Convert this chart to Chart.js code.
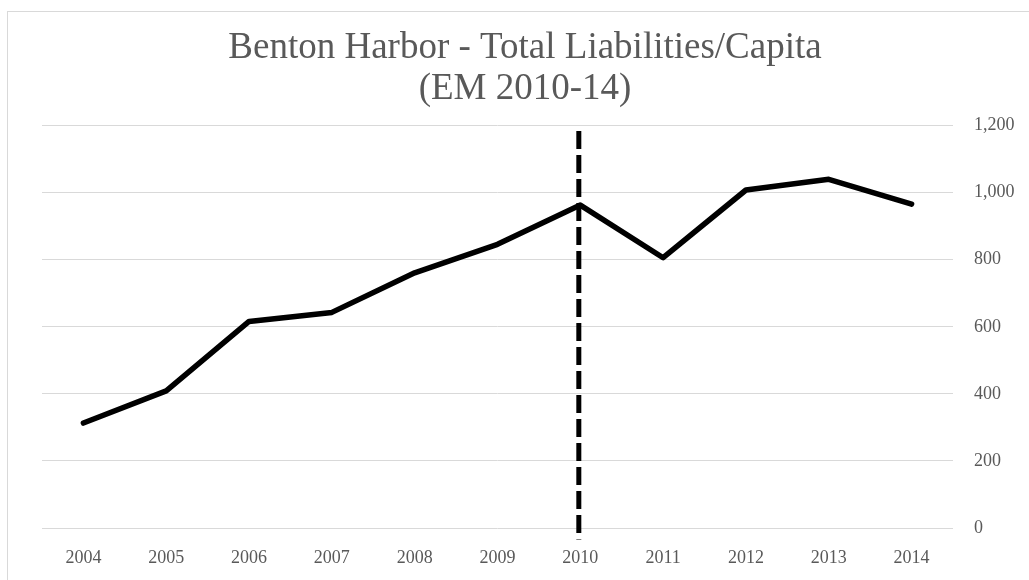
<!DOCTYPE html>
<html>
<head>
<meta charset="utf-8">
<title>Benton Harbor - Total Liabilities/Capita</title>
<script src="https://cdn.jsdelivr.net/npm/chart.js@4/dist/chart.umd.min.js"></script>
<style>
  html, body { margin: 0; padding: 0; background: #fff; }
  #wrap { width: 1029px; height: 580px; position: relative; }
</style>
</head>
<body>
<div id="wrap"><canvas id="liabChart" width="1029" height="580"></canvas></div>
<script>
// Total liabilities per capita, by year
const years = ["2004", "2005", "2006", "2007", "2008", "2009", "2010", "2011", "2012", "2013", "2014"];
const liabilitiesPerCapita = [313, 409, 616, 643, 761, 846, 963, 806, 1008, 1040, 966];
const yTicks = [0, 200, 400, 600, 800, 1000, 1200];

// start of the emergency manager period, drawn as a dashed marker
const emStartYear = "2010";
const emMarkerSpan = [-34, 1184];

const grey = "#595959";
const serif = "'Liberation Serif', 'Times New Roman', serif";

// light frame around the chart (only top and left edges fall inside the page)
const framePlugin = {
  id: "frame",
  beforeDraw(chart) {
    const ctx = chart.ctx;
    ctx.save();
    ctx.strokeStyle = "#d9d9d9";
    ctx.lineWidth = 1;
    ctx.strokeRect(7.5, 11.5, 2000, 2000);
    ctx.restore();
  },
};

// dashed vertical line at the EM start year
const emMarkerPlugin = {
  id: "emMarker",
  afterDatasetsDraw(chart) {
    const x = chart.scales.x.getPixelForValue(years.indexOf(emStartYear));
    const yTop = chart.scales.y.getPixelForValue(emMarkerSpan[1]);
    const yBottom = chart.scales.y.getPixelForValue(emMarkerSpan[0]);
    const ctx = chart.ctx;
    ctx.save();
    ctx.strokeStyle = "#000";
    ctx.lineWidth = 5;
    ctx.setLineDash([18, 6]);
    ctx.beginPath();
    ctx.moveTo(x - 1.5, yTop);
    ctx.lineTo(x - 1.5, yBottom);
    ctx.stroke();
    ctx.restore();
  },
};

new Chart(document.getElementById("liabChart"), {
  type: "line",
  data: {
    labels: years,
    datasets: [
      {
        data: liabilitiesPerCapita,
        borderColor: "#000",
        borderWidth: 5.5,
        borderCapStyle: "round",
        borderJoinStyle: "round",
        pointRadius: 0,
        tension: 0,
        fill: false,
      },
    ],
  },
  options: {
    responsive: false,
    animation: false,
    layout: {
      padding: { left: 21, right: 0, top: 11, bottom: 0 },
    },
    plugins: {
      legend: { display: false },
      tooltip: { enabled: false },
      title: {
        display: true,
        text: ["Benton Harbor - Total Liabilities/Capita", "(EM 2010-14)"],
        color: grey,
        font: { family: serif, size: 37, weight: "normal", lineHeight: 1.13 },
        padding: { top: 16, bottom: 15 },
      },
    },
    scales: {
      x: {
        offset: true,
        grid: { display: false, drawTicks: false },
        border: { display: false },
        ticks: {
          color: grey,
          font: { family: serif, size: 18 },
          padding: 19,
          maxRotation: 0,
        },
        afterFit(scale) {
          scale.height = 52;
        },
      },
      y: {
        position: "right",
        min: 0,
        max: 1200,
        afterBuildTicks(scale) {
          scale.ticks = yTicks.map((v) => ({ value: v }));
        },
        grid: { color: "#d9d9d9", lineWidth: 1, drawTicks: false },
        border: { display: false },
        ticks: {
          color: grey,
          font: { family: serif, size: 18 },
          padding: 21,
          callback: (v) => v.toLocaleString("en-US"),
        },
        afterFit(scale) {
          scale.width = 76;
        },
      },
      // empty left gutter so the plot starts inside the frame
      gutter: {
        type: "linear",
        position: "left",
        display: true,
        grid: { display: false, drawTicks: false },
        border: { display: false },
        ticks: { display: false },
        afterFit(scale) {
          scale.width = 21;
        },
      },
    },
  },
  plugins: [framePlugin, emMarkerPlugin],
});
</script>
</body>
</html>
